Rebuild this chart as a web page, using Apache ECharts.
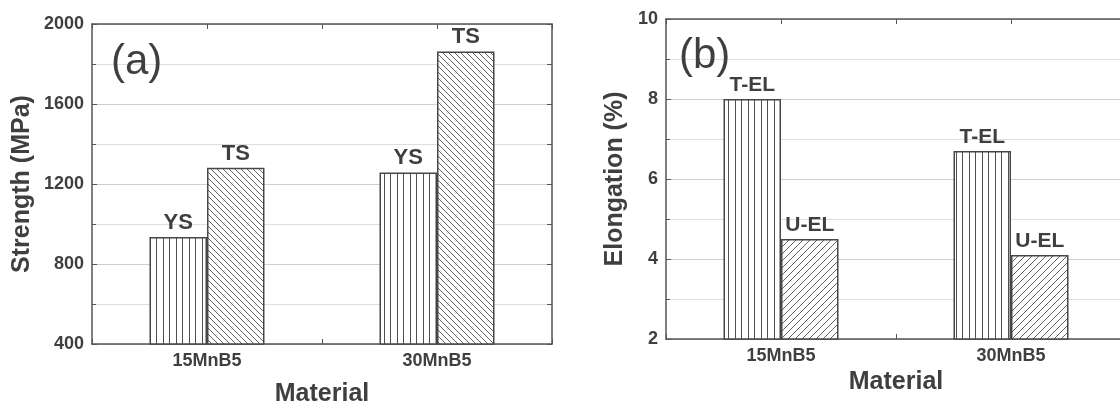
<!DOCTYPE html>
<html>
<head>
<meta charset="utf-8">
<script src="https://cdn.jsdelivr.net/npm/echarts@6/dist/echarts.min.js"></script>
<style>
html,body{margin:0;padding:0;background:#fff;}
#chart{width:1120px;height:406px;}
</style>
</head>
<body>
<div id="chart"></div>
<script>
// ---- data ----
var materials = ['15MnB5', '30MnB5'];
var ysValues = [935, 1258];      // yield strength, MPa
var tsValues = [1281, 1863];     // tensile strength, MPa
var telValues = [8.0, 6.7];      // total elongation, %
var uelValues = [4.5, 4.1];      // uniform elongation, %
var strengthTicks = {min: 400, max: 2000, step: 400};
var elongTicks = {min: 2, max: 10, step: 2};

// ---- hatch patterns ----
var LINE = '#505050';
function makePattern(kind) {
  var c = document.createElement('canvas');
  var ctx;
  if (kind === 'vertical') {
    c.width = 13; c.height = 4;
    ctx = c.getContext('2d');
    ctx.fillStyle = '#fff'; ctx.fillRect(0, 0, c.width, c.height);
    ctx.strokeStyle = LINE; ctx.lineWidth = 1;
    ctx.beginPath();
    ctx.moveTo(0.5, 0); ctx.lineTo(0.5, 4);
    ctx.moveTo(7.5, 0); ctx.lineTo(7.5, 4);
    ctx.stroke();
  } else {
    var n = kind === 'back' ? 6 : 7;
    c.width = n; c.height = n;
    ctx = c.getContext('2d');
    ctx.fillStyle = '#fff'; ctx.fillRect(0, 0, n, n);
    ctx.strokeStyle = LINE; ctx.lineWidth = 0.9;
    ctx.beginPath();
    for (var k = -n; k <= n; k += n) {
      if (kind === 'back') { ctx.moveTo(k, 0); ctx.lineTo(k + n, n); }
      else { ctx.moveTo(k + n, 0); ctx.lineTo(k, n); }
    }
    ctx.stroke();
  }
  return {image: c, repeat: 'repeat'};
}
var patVertical = makePattern('vertical');
var patBack = makePattern('back');
var patFwd = makePattern('fwd');

var FONT = 'Liberation Sans';
var TXT = '#3f3f3f';
var AX = '#555';
var axisLine = {show: true, lineStyle: {color: AX, width: 1.5}};
var tickIn = {show: true, inside: true, length: 5, lineStyle: {color: AX, width: 1}};
var tickLabel = {fontFamily: FONT, fontWeight: 'bold', fontSize: 18, color: TXT};
var nameStyle = {fontFamily: FONT, fontWeight: 'bold', fontSize: 25, color: TXT};

function barSeries(name, data, pattern, xi, yi, labelSize) {
  return {
    type: 'bar', name: name, data: data,
    xAxisIndex: xi, yAxisIndex: yi,
    barWidth: '25%', barGap: '0%',
    itemStyle: {color: pattern, borderColor: '#474747', borderWidth: 1.5},
    label: {show: true, position: 'top', distance: 3, formatter: '{a}',
      fontFamily: FONT, fontWeight: 'bold', fontSize: labelSize, color: TXT},
    emphasis: {disabled: true},
    animation: false
  };
}

function valueY(grid, t, name, nameGap, showLabels, right, minorInterval) {
  return {
    type: 'value', gridIndex: grid, position: right ? 'right' : 'left',
    min: t.min, max: t.max, interval: right ? minorInterval : t.step,
    name: showLabels ? name : '', nameLocation: 'middle', nameGap: nameGap,
    nameTextStyle: nameStyle,
    axisLine: axisLine,
    axisTick: {show: true, inside: true, length: 5, lineStyle: {color: AX, width: 1}},
    minorTick: showLabels ? {show: true, splitNumber: 2, length: 4, lineStyle: {color: AX, width: 1}} : {show: false},
    axisLabel: showLabels ? Object.assign({margin: 8, formatter: function (v) { return String(v); }}, tickLabel) : {show: false},
    splitLine: showLabels ? {show: true, lineStyle: {color: '#cfcfcf', width: 1}} : {show: false},
    minorSplitLine: showLabels ? {show: true, lineStyle: {color: '#dedede', width: 1}} : {show: false}
  };
}

function catX(grid, nameGap) {
  return {
    type: 'category', gridIndex: grid, position: 'bottom', data: materials,
    name: 'Material', nameLocation: 'middle', nameGap: nameGap, nameTextStyle: nameStyle,
    axisLine: axisLine, axisTick: tickIn,
    axisLabel: Object.assign({margin: 8}, tickLabel),
    splitLine: {show: false}
  };
}
function topX(grid) {
  return {
    type: 'value', gridIndex: grid, position: 'top', min: 0, max: 4, interval: 1,
    axisLine: axisLine, axisTick: tickIn, axisLabel: {show: false}, splitLine: {show: false}
  };
}

var option = {
  backgroundColor: '#fff',
  animation: false,
  title: [
    {text: '(a)', left: 111, top: 41, padding: 0,
      textStyle: {fontFamily: FONT, fontWeight: 'normal', fontSize: 42, color: TXT}},
    {text: '(b)', left: 679, top: 35, padding: 0,
      textStyle: {fontFamily: FONT, fontWeight: 'normal', fontSize: 42, color: TXT}}
  ],
  grid: [
    {left: 92, top: 24, width: 460, height: 320, containLabel: false, outerBoundsMode: 'none'},
    {left: 666, top: 19, width: 460, height: 320, containLabel: false, outerBoundsMode: 'none'}
  ],
  xAxis: [catX(0, 38), topX(0), catX(1, 30), topX(1)],
  yAxis: [
    valueY(0, strengthTicks, 'Strength (MPa)', 57, true, false),
    valueY(0, strengthTicks, '', 0, false, true, 200),
    valueY(1, elongTicks, 'Elongation (%)', 38, true, false),
    valueY(1, elongTicks, '', 0, false, true, 1)
  ],
  series: [
    barSeries('YS', ysValues, patVertical, 0, 0, 22),
    barSeries('TS', tsValues, patBack, 0, 0, 22),
    barSeries('T-EL', telValues, patVertical, 2, 2, 21),
    barSeries('U-EL', uelValues, patFwd, 2, 2, 21)
  ]
};

var chart = echarts.init(document.getElementById('chart'), null, {renderer: 'canvas'});
chart.setOption(option);
</script>
</body>
</html>
